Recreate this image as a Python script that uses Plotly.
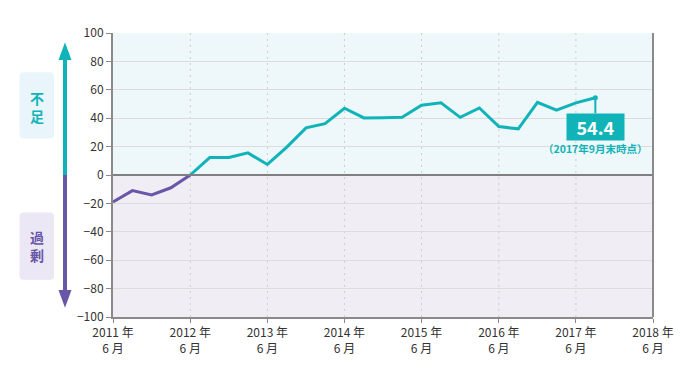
import plotly.graph_objects as go
import pandas as pd

dates = pd.date_range("2011-06-01", "2017-09-01", freq="3MS").strftime("%Y-%m-%d").tolist()
values = [-19, -11, -14, -9, 0, 12.3, 12.3, 15.6, 7.4, 19.6, 33.2, 36.2, 47.0,
          40.2, 40.4, 40.6, 49.1, 50.8, 40.6, 47.2, 34.1, 32.5, 51.2, 45.6, 50.8, 54.4]
tick_vals = ["%d-06-01" % y for y in range(2011, 2019)]
tick_text = ["%d 年<br>6 月" % y for y in range(2011, 2019)]
y_ticks = list(range(-100, 101, 20))
latest_label = "54.4"
latest_note = "（2017年9月末時点）"

TEAL = "#10b4b8"
PURPLE = "#6856a8"
FONT = "Noto Sans CJK JP"

split = values.index(0)

fig = go.Figure()
fig.add_trace(go.Scatter(x=dates[:split + 1], y=values[:split + 1], mode="lines",
                         line=dict(color=PURPLE, width=3), hoverinfo="skip"))
fig.add_trace(go.Scatter(x=dates[split:], y=values[split:], mode="lines",
                         line=dict(color=TEAL, width=3), hoverinfo="skip"))
fig.add_trace(go.Scatter(x=[dates[-1]], y=[values[-1]], mode="markers",
                         marker=dict(color=TEAL, size=5), hoverinfo="skip"))

shapes = []
shapes.append(dict(type="rect", xref="paper", yref="y", x0=0, x1=1, y0=0, y1=100,
                   fillcolor="#eef7fa", line=dict(width=0), layer="below"))
shapes.append(dict(type="rect", xref="paper", yref="y", x0=0, x1=1, y0=-100, y1=0,
                   fillcolor="#f1edf5", line=dict(width=0), layer="below"))
for tv in tick_vals[1:-1]:
    shapes.append(dict(type="line", xref="x", yref="y", x0=tv, x1=tv, y0=-100, y1=100,
                       line=dict(color="#cdcdcd", width=1, dash="2px,4px"), layer="below"))
shapes.append(dict(type="line", xref="paper", yref="y", x0=0, x1=1, y0=0, y1=0,
                   line=dict(color="#808080", width=2)))
shapes.append(dict(type="line", xref="paper", yref="paper", x0=1, x1=1, y0=0, y1=1,
                   line=dict(color="#8a8a8a", width=2)))

PW = 540.0
ax_x = (65 - 113) / PW
hw = 6.5 / PW
sw = 2 / PW
shapes.append(dict(type="rect", xref="paper", yref="y", x0=ax_x - sw, x1=ax_x + sw,
                   y0=0, y1=82, fillcolor=TEAL, line=dict(width=0)))
shapes.append(dict(type="path", xref="paper", yref="y",
                   path="M %f,81 L %f,81 L %f,93.5 Z" % (ax_x - hw, ax_x + hw, ax_x),
                   fillcolor=TEAL, line=dict(width=0)))
shapes.append(dict(type="rect", xref="paper", yref="y", x0=ax_x - sw, x1=ax_x + sw,
                   y0=-82, y1=0, fillcolor=PURPLE, line=dict(width=0)))
shapes.append(dict(type="path", xref="paper", yref="y",
                   path="M %f,-81 L %f,-81 L %f,-93.5 Z" % (ax_x - hw, ax_x + hw, ax_x),
                   fillcolor=PURPLE, line=dict(width=0)))


def px_to_y(py):
    return (175.5 - py) / 1.4225


def rounded_box(x0p, x1p, y0p, y1p, color):
    r = 4
    X = lambda v: (v - 113) / PW
    Y = px_to_y
    p = ("M %f,%f L %f,%f Q %f,%f %f,%f L %f,%f Q %f,%f %f,%f L %f,%f Q %f,%f %f,%f "
         "L %f,%f Q %f,%f %f,%f Z") % (
        X(x0p + r), Y(y0p), X(x1p - r), Y(y0p), X(x1p), Y(y0p), X(x1p), Y(y0p + r),
        X(x1p), Y(y1p - r), X(x1p), Y(y1p), X(x1p - r), Y(y1p),
        X(x0p + r), Y(y1p), X(x0p), Y(y1p), X(x0p), Y(y1p - r),
        X(x0p), Y(y0p + r), X(x0p), Y(y0p), X(x0p + r), Y(y0p))
    return dict(type="path", xref="paper", yref="y", path=p, fillcolor=color,
                line=dict(width=0))


shapes.append(rounded_box(19.5, 54, 72.5, 139, "#e9f5fa"))
shapes.append(rounded_box(19.5, 54, 213, 280.5, "#ece7f4"))

annotations = [
    dict(xref="paper", yref="y", x=(36.7 - 113) / PW, y=px_to_y(107), text="<b>不<br>足</b>",
         showarrow=False, font=dict(family=FONT, size=14, color=TEAL), xanchor="center",
         yanchor="middle"),
    dict(xref="paper", yref="y", x=(36.7 - 113) / PW, y=px_to_y(247), text="<b>過<br>剰</b>",
         showarrow=False, font=dict(family=FONT, size=14, color=PURPLE), xanchor="center",
         yanchor="middle"),
    dict(x=dates[-1], y=values[-1], text="<b>" + latest_label + "</b>", showarrow=True,
         arrowhead=0, arrowcolor=TEAL, arrowwidth=2, ax=0, ay=29, bgcolor=TEAL,
         width=55, height=24, font=dict(family=FONT, size=18, color="white"),
         borderpad=1),
    dict(x=dates[-1], y=values[-1], text="<b>" + latest_note + "</b>", showarrow=False,
         yshift=-51, font=dict(family=FONT, size=10.5, color=TEAL)),
]

fig.update_layout(
    width=691, height=365,
    margin=dict(l=105, r=46, t=25, b=55.5),
    paper_bgcolor="white", plot_bgcolor="white",
    showlegend=False,
    shapes=shapes, annotations=annotations,
    font=dict(family=FONT, size=12, color="#333333"),
    xaxis=dict(type="date", range=[tick_vals[0], tick_vals[-1]], tickvals=tick_vals,
               ticktext=tick_text, showgrid=False, zeroline=False, showline=True,
               linecolor="#8a8a8a", linewidth=2, ticks="outside", ticklen=4,
               tickcolor="#8a8a8a", tickwidth=1, tickfont=dict(size=12, color="#333")),
    yaxis=dict(range=[-100, 100], tickvals=y_ticks, showgrid=True, gridcolor="#dcdcdc",
               gridwidth=1, zeroline=False, showline=True, linecolor="#8a8a8a",
               linewidth=2, ticks="outside", ticklen=5, tickcolor="#8a8a8a",
               tickfont=dict(size=12, color="#333")),
)

fig.write_html("out.html")
